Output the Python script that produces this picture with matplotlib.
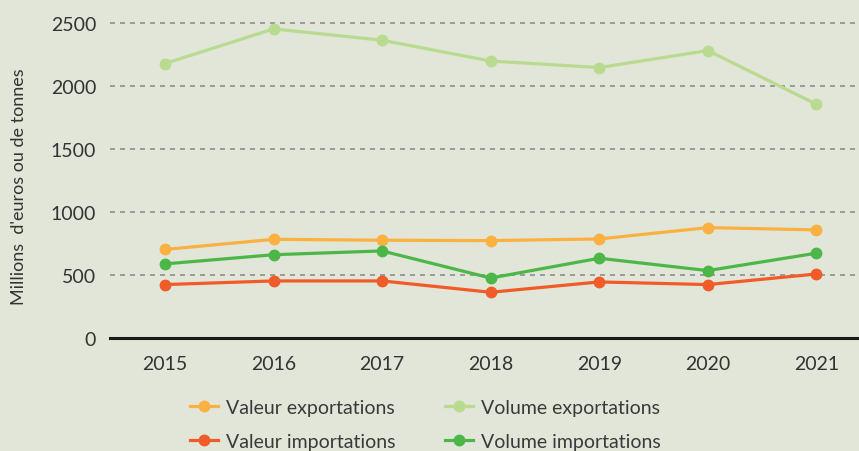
import matplotlib.pyplot as plt

plt.rcParams['font.family'] = ['Lato', 'DejaVu Sans']

# Données
annees = [2015, 2016, 2017, 2018, 2019, 2020, 2021]
valeur_export = [705, 785, 778, 775, 788, 878, 860]
volume_export = [2180, 2455, 2365, 2200, 2148, 2283, 1857]
valeur_import = [426, 455, 455, 365, 447, 426, 510]
volume_import = [590, 663, 693, 478, 635, 537, 675]

fond = '#e1e6d8'
fig = plt.figure(figsize=(8.59, 4.52), dpi=100, facecolor=fond)
ax = fig.add_axes([0.128, 0.2494, 0.872, 0.711], facecolor=fond)

style = dict(linewidth=2.3, marker='o', markersize=7.5)
ax.plot(annees, valeur_export, color='#fbb040', label='Valeur exportations', **style)
ax.plot(annees, valeur_import, color='#f15a29', label='Valeur importations', **style)
ax.plot(annees, volume_export, color='#b8db8f', label='Volume exportations', **style)
ax.plot(annees, volume_import, color='#4cb748', label='Volume importations', **style)

ax.set_xlim(2014.493, 2021.393)
ax.set_ylim(0, 2550)
ax.set_yticks([0, 500, 1000, 1500, 2000, 2500])
ax.set_xticks(annees)
ax.grid(axis='y', linestyle=(0, (3, 3)), color='#8f8f8f', linewidth=1.2)
ax.set_axisbelow(True)

for s in ['top', 'right', 'left']:
    ax.spines[s].set_visible(False)
ax.spines['bottom'].set_linewidth(2.2)
ax.spines['bottom'].set_color('#1a1a1a')
ax.spines['bottom'].set_zorder(5)

ax.tick_params(axis='both', length=0, labelsize=14, colors='#333333')
ax.tick_params(axis='y', pad=10)
ax.tick_params(axis='x', pad=12)

ax.set_ylabel("Millions  d'euros ou de tonnes", fontsize=13, color='#333333')
ax.yaxis.set_label_coords(-0.111, 0.474)

leg = fig.legend(loc='center left', bbox_to_anchor=(190 / 859, 26.5 / 452), ncol=2,
                 frameon=False, fontsize=14, handlelength=1.45, handletextpad=0.4,
                 columnspacing=2.55, labelspacing=0.85, borderpad=0, borderaxespad=0,
                 labelcolor='#3a3a3a')

fig.savefig('out.png', dpi=100, facecolor=fond)
